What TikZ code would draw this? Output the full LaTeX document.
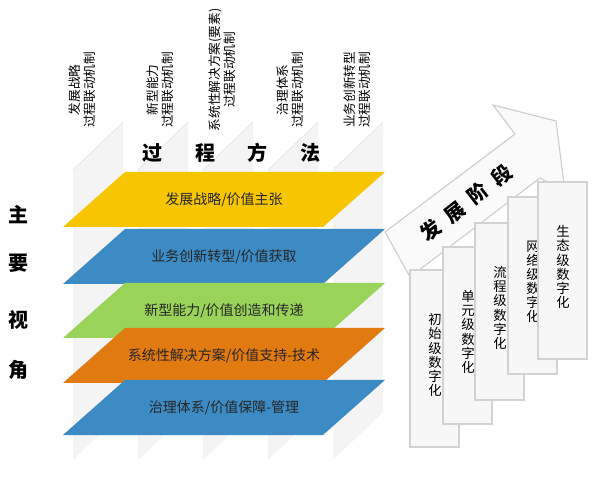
\documentclass[tikz,border=0pt]{standalone}
\usepackage{fontspec}
\setmainfont{Noto Sans CJK SC}
\usetikzlibrary{positioning}
\tikzset{stagebox/.style={draw=gray!35, fill=gray!6, line width=0.8pt},
  collabel/.style={rotate=90, align=center, font=\fontsize{9.5}{11.5}\selectfont, inner sep=0pt},
  stagetext/.style={align=center, font=\fontsize{10}{10.6}\selectfont, inner sep=0pt},
  layertext/.style={font=\fontsize{10.5}{12}\selectfont, text=black!85},
  bigchar/.style={font=\bfseries\fontsize{15}{15}\selectfont}}
\definecolor{lyellow}{HTML}{F7C600}
\definecolor{lblue}{HTML}{3D8BC4}
\definecolor{lgreen}{HTML}{99D35A}
\definecolor{lorange}{HTML}{E27A12}

\begin{document}
\begin{tikzpicture}[x=0.75pt, y=-0.75pt]
	\useasboundingbox (0,0) rectangle (600,477);
	% process columns
	\foreach \l in {73,138,203,268,333}
		\fill[gray!9] (\l,170) -- (\l+50,122) -- (\l+50,412) -- (\l,460) -- cycle;
	\foreach \l in {73,138,203,268,333}
		\draw[gray!25] (\l,170) -- (\l+50,122);
	% layers
	\foreach \t/\c/\txt [count=\i] in {172/lyellow/{发展战略/价值主张}, 229/lblue/{业务创新转型/价值获取}, 283/lgreen/{新型能力/价值创造和传递}, 328/lorange/{系统性解决方案/价值支持-技术}, 380/lblue/{治理体系/价值保障-管理}}{
		\fill[\c] (125,\t) -- (385,\t) -- (323,\t+55) -- (63,\t+55) -- cycle;
		\node[layertext] (layer\i) at (224,\t+28) {\txt};
	}
	% column labels
	\node[collabel] (col1) at (82,90) {发展战略\\过程联动机制};
	\node[collabel] (col2) at (160,90) {新型能力\\过程联动机制};
	\node[collabel] (col3) at (222,70) {系统性解决方案(要素)\\过程联动机制};
	\node[collabel] (col4) at (290,90) {治理体系\\过程联动机制};
	\node[collabel] (col5) at (357,90) {业务创新转型\\过程联动机制};
	\foreach \x/\ch [count=\i] in {152/过, 205/程, 257/方, 310/法}
		\node[bigchar] (proc\i) at (\x,153) {\ch};
	\foreach \y/\ch [count=\i] in {215/主, 263/要, 320/视, 370/角}
		\node[bigchar] (view\i) at (18,\y) {\ch};
	% stage arrow
	\draw[gray!40, fill=gray!4, line width=0.8pt] (385,232) -- (515,134) -- (493,105) -- (556,121) -- (565,192) -- (540,178) -- (410,277) -- cycle;
	\node[bigchar, rotate=38] (stage) at (466,203) {发\hspace{0.5em}展\hspace{0.5em}阶\hspace{0.5em}段};
	% stage boxes
	\foreach \x/\y/\txt [count=\i] in {410/270/{初\\始\\级\\数\\字\\化}, 443/247/{单\\元\\级\\数\\字\\化}, 475/223/{流\\程\\级\\数\\字\\化}, 508/197/{网\\络\\级\\数\\字\\化}, 538/182/{生\\态\\级\\数\\字\\化}}{
		\draw[stagebox] (\x,\y) rectangle (\x+49,\y+177);
		\node[stagetext] (box\i) at (\x+25,\y+85) {\txt};
	}
\end{tikzpicture}
\end{document}
